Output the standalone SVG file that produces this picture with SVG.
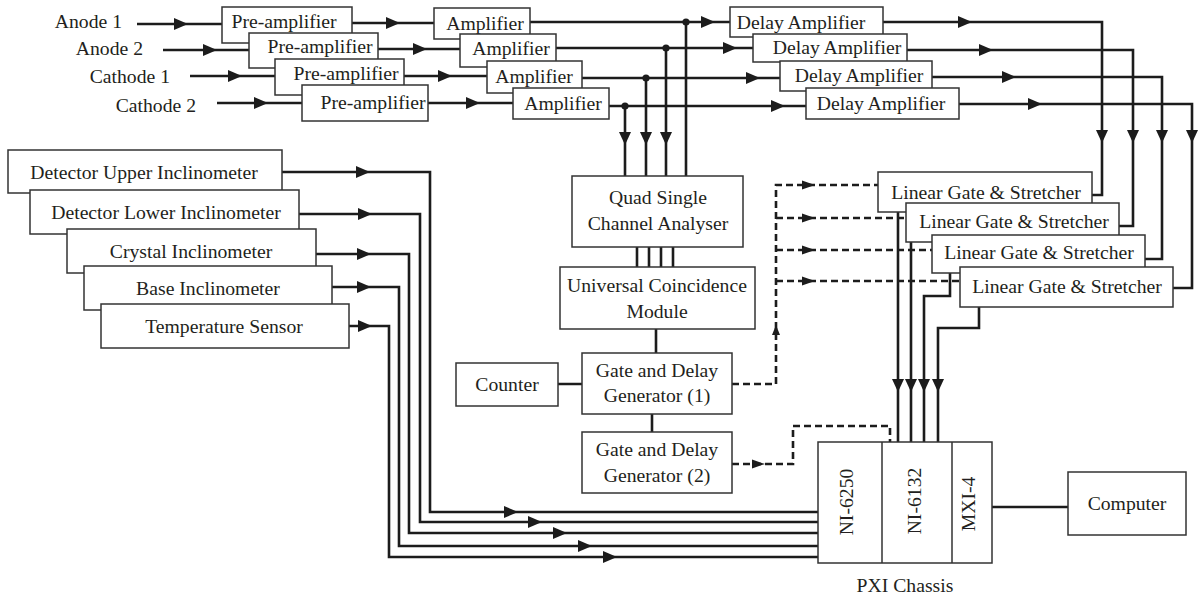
<svg xmlns="http://www.w3.org/2000/svg" xmlns:xlink="http://www.w3.org/1999/xlink" width="1199" height="602" viewBox="0 0 1199 602">
<defs>
<style>
.bx{fill:#fff;stroke:#333;stroke-width:1.5}
.t{font-family:"Liberation Serif","Times New Roman",serif;font-size:19.7px;fill:#231f20;text-anchor:middle}
.e{text-anchor:end}
.w{fill:none;stroke:#1c1c1c;stroke-width:2.6}
.dl{fill:none;stroke:#1c1c1c;stroke-width:2.6;stroke-dasharray:7 4}
.ah{fill:#1c1c1c}
</style>
<!-- arrowheads, tip at origin -->
<path id="ar" d="M-14,-6 L0,0 L-14,6 Z"/>
<path id="ad" d="M-6,-13 L0,0 L6,-13 Z"/>
<path id="au" d="M-4,10 L0,0 L4,10 Z"/>
<path id="as" d="M-13,-4.5 L0,0 L-13,4.5 Z"/>
</defs>
<rect width="1199" height="602" fill="#fff"/>

<g id="connectors">
  <!-- detector inputs -->
  <path class="w" d="M137,24 H222 M163,50 H249 M190,76 H275 M217,103 H302"/>
  <!-- pre-amplifier to amplifier -->
  <path class="w" d="M352,23 H434 M378,49 H460 M404,76 H487 M428,103 H513"/>
  <!-- amplifier to delay amplifier -->
  <path class="w" d="M530,22 H730 M556,48 H753 M582,78 H780 M609,106 H806"/>
  <!-- taps to the single channel analyser -->
  <path class="w" d="M686,22 V176 M666,48 V176 M646,78 V176 M625,106 V176"/>
  <circle class="ah" cx="686" cy="22" r="3.6"/>
  <circle class="ah" cx="666" cy="48" r="3.6"/>
  <circle class="ah" cx="646" cy="78" r="3.6"/>
  <circle class="ah" cx="625" cy="106" r="3.6"/>
  <!-- delay amplifier to linear gates -->
  <path class="w" d="M883,22 H1102 V195 H1092"/>
  <path class="w" d="M907,50 H1133 V226 H1119"/>
  <path class="w" d="M932,77 H1162 V259 H1145"/>
  <path class="w" d="M959,104 H1192 V288 H1173"/>
  <!-- sensors to NI-6250 -->
  <path class="w" d="M282,172 H430 V512 H818"/>
  <path class="w" d="M299,214 H420 V522 H818"/>
  <path class="w" d="M316,254 H409 V533 H818"/>
  <path class="w" d="M332,287 H399 V546 H818"/>
  <path class="w" d="M349,326 H389 V557 H818"/>
  <!-- central chain -->
  <path class="w" d="M637,247 V267 M649,247 V267 M661,247 V267 M673,247 V267"/>
  <path class="w" d="M656,329 V353 M558,384 H582 M652,414 V432"/>
  <!-- gate signals -->
  <path class="dl" d="M732,384 H776 V185 H878"/>
  <path class="dl" d="M776,218 H906"/>
  <path class="dl" d="M776,250 H932"/>
  <path class="dl" d="M776,281 H960"/>
  <path class="dl" d="M732,464 H793 V426 H890 V442"/>
  <!-- linear gates to NI-6132 -->
  <path class="w" d="M898,212 V443 M911,242 V443"/>
  <path class="w" d="M950,273 V296 H924 V443"/>
  <path class="w" d="M979,307 V328 H938 V443"/>
  <!-- chassis to computer -->
  <path class="w" d="M992,507 H1068"/>

  <g class="ah">
    <use xlink:href="#ar" x="188" y="24"/>
    <use xlink:href="#ar" x="217" y="50"/>
    <use xlink:href="#ar" x="242" y="76"/>
    <use xlink:href="#ar" x="268" y="103"/>
    <use xlink:href="#ar" x="400" y="23"/>
    <use xlink:href="#ar" x="427" y="49"/>
    <use xlink:href="#ar" x="452" y="76"/>
    <use xlink:href="#ar" x="480" y="103"/>
    <use xlink:href="#ar" x="715" y="22"/>
    <use xlink:href="#ar" x="737" y="48"/>
    <use xlink:href="#ar" x="760" y="78"/>
    <use xlink:href="#ar" x="785" y="106"/>
    <use xlink:href="#ad" x="625" y="145"/>
    <use xlink:href="#ad" x="646" y="145"/>
    <use xlink:href="#ad" x="666" y="145"/>
    <use xlink:href="#ar" x="972" y="22"/>
    <use xlink:href="#ar" x="993" y="50"/>
    <use xlink:href="#ar" x="1016" y="77"/>
    <use xlink:href="#ar" x="1042" y="104"/>
    <use xlink:href="#ad" x="1102" y="143"/>
    <use xlink:href="#ad" x="1133" y="143"/>
    <use xlink:href="#ad" x="1162" y="143"/>
    <use xlink:href="#ad" x="1192" y="143"/>
    <use xlink:href="#ar" x="370" y="172"/>
    <use xlink:href="#ar" x="372" y="214"/>
    <use xlink:href="#ar" x="371" y="254"/>
    <use xlink:href="#ar" x="371" y="287"/>
    <use xlink:href="#ar" x="372" y="326"/>
    <use xlink:href="#ar" x="518" y="512"/>
    <use xlink:href="#ar" x="542" y="522"/>
    <use xlink:href="#ar" x="567" y="533"/>
    <use xlink:href="#ar" x="592" y="546"/>
    <use xlink:href="#ar" x="617" y="557"/>
    <use xlink:href="#as" x="815" y="185"/>
    <use xlink:href="#as" x="815" y="218"/>
    <use xlink:href="#as" x="815" y="250"/>
    <use xlink:href="#as" x="815" y="281"/>
    <use xlink:href="#au" x="776" y="325"/>
    <use xlink:href="#as" x="765" y="464"/>
    <use xlink:href="#ad" x="898" y="392"/>
    <use xlink:href="#ad" x="911" y="392"/>
    <use xlink:href="#ad" x="924" y="392"/>
    <use xlink:href="#ad" x="938" y="392"/>
  </g>
</g>

<g id="inputs">
  <text class="t e" x="122" y="28">Anode 1</text>
  <text class="t e" x="143" y="55">Anode 2</text>
  <text class="t e" x="170" y="83">Cathode 1</text>
  <text class="t e" x="196" y="112">Cathode 2</text>
</g>

<g id="preamp1"><rect class="bx" x="222" y="7" width="130" height="36"/><text class="t" x="284" y="28">Pre-amplifier</text></g>
<g id="preamp2"><rect class="bx" x="249" y="33" width="129" height="35"/><text class="t" x="320" y="53">Pre-amplifier</text></g>
<g id="preamp3"><rect class="bx" x="275" y="59" width="129" height="36"/><text class="t" x="346" y="80">Pre-amplifier</text></g>
<g id="preamp4"><rect class="bx" x="302" y="85" width="126" height="36"/><text class="t" x="373" y="109">Pre-amplifier</text></g>

<g id="amp1"><rect class="bx" x="434" y="8" width="96" height="31"/><text class="t" x="485" y="30">Amplifier</text></g>
<g id="amp2"><rect class="bx" x="460" y="34" width="96" height="33"/><text class="t" x="511" y="55">Amplifier</text></g>
<g id="amp3"><rect class="bx" x="487" y="61" width="95" height="32"/><text class="t" x="534" y="83">Amplifier</text></g>
<g id="amp4"><rect class="bx" x="513" y="88" width="96" height="31"/><text class="t" x="563" y="110">Amplifier</text></g>

<g id="delay1"><rect class="bx" x="730" y="7" width="153" height="30"/><text class="t" x="801" y="29">Delay Amplifier</text></g>
<g id="delay2"><rect class="bx" x="753" y="34" width="154" height="28"/><text class="t" x="837" y="54">Delay Amplifier</text></g>
<g id="delay3"><rect class="bx" x="780" y="61" width="152" height="30"/><text class="t" x="859" y="82">Delay Amplifier</text></g>
<g id="delay4"><rect class="bx" x="806" y="88" width="153" height="31"/><text class="t" x="881" y="110">Delay Amplifier</text></g>

<g id="sensor-dui"><rect class="bx" x="8" y="150" width="274" height="43"/><text class="t" x="144" y="179">Detector Upper Inclinometer</text></g>
<g id="sensor-dli"><rect class="bx" x="30" y="190" width="269" height="44"/><text class="t" x="166" y="219">Detector Lower Inclinometer</text></g>
<g id="sensor-ci"><rect class="bx" x="67" y="229" width="249" height="44"/><text class="t" x="191" y="258">Crystal Inclinometer</text></g>
<g id="sensor-bi"><rect class="bx" x="84" y="266" width="248" height="44"/><text class="t" x="208" y="295">Base Inclinometer</text></g>
<g id="sensor-ts"><rect class="bx" x="101" y="304" width="248" height="44"/><text class="t" x="224" y="333">Temperature Sensor</text></g>

<g id="qsca"><rect class="bx" x="572" y="176" width="171" height="71"/><text class="t" x="658" y="204">Quad Single</text><text class="t" x="658" y="230">Channel Analyser</text></g>
<g id="ucm"><rect class="bx" x="560" y="267" width="195" height="62"/><text class="t" x="657" y="292">Universal Coincidence</text><text class="t" x="657" y="318">Module</text></g>
<g id="gdg1"><rect class="bx" x="582" y="353" width="150" height="61"/><text class="t" x="657" y="377">Gate and Delay</text><text class="t" x="657" y="402">Generator (1)</text></g>
<g id="counter"><rect class="bx" x="456" y="363" width="102" height="43"/><text class="t" x="507" y="391">Counter</text></g>
<g id="gdg2"><rect class="bx" x="582" y="432" width="150" height="61"/><text class="t" x="657" y="456">Gate and Delay</text><text class="t" x="657" y="482">Generator (2)</text></g>

<g id="lg1"><rect class="bx" x="878" y="172" width="214" height="40"/><text class="t" x="986" y="199">Linear Gate &amp; Stretcher</text></g>
<g id="lg2"><rect class="bx" x="906" y="203" width="213" height="39"/><text class="t" x="1014" y="228">Linear Gate &amp; Stretcher</text></g>
<g id="lg3"><rect class="bx" x="932" y="235" width="213" height="38"/><text class="t" x="1039" y="259">Linear Gate &amp; Stretcher</text></g>
<g id="lg4"><rect class="bx" x="960" y="267" width="213" height="40"/><text class="t" x="1067" y="293">Linear Gate &amp; Stretcher</text></g>

<g id="pxi">
  <rect class="bx" x="818" y="442" width="174" height="121"/>
  <path class="bx" d="M882,442 V563 M952,442 V563"/>
  <text class="t" transform="translate(853,502) rotate(-90)">NI-6250</text>
  <text class="t" transform="translate(921,501) rotate(-90)">NI-6132</text>
  <text class="t" transform="translate(975,504) rotate(-90)">MXI-4</text>
  <text class="t" x="905" y="592">PXI Chassis</text>
</g>

<g id="computer"><rect class="bx" x="1068" y="472" width="118" height="63"/><text class="t" x="1127" y="510">Computer</text></g>
</svg>
